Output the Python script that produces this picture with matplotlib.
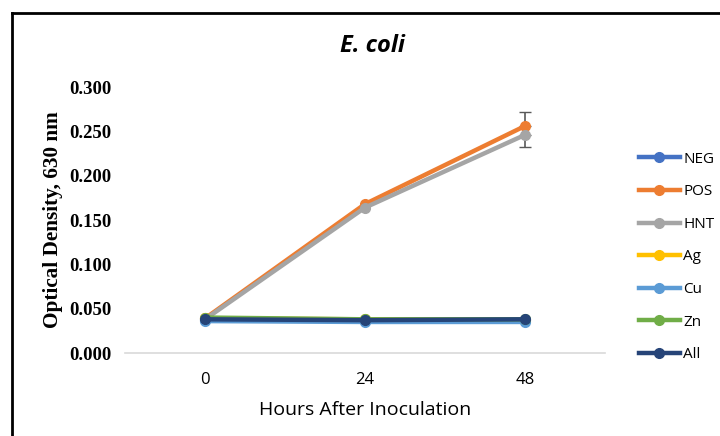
import matplotlib.pyplot as plt
from matplotlib.lines import Line2D

# Data
hours = ["0", "24", "48"]
series_names = ["NEG", "POS", "HNT", "Ag", "Cu", "Zn", "All"]
neg = [0.037, 0.036, 0.037]
pos = [0.039, 0.168, 0.256]
hnt = [0.038, 0.164, 0.246]
ag = [0.039, 0.038, 0.037]
cu = [0.036, 0.035, 0.035]
zn = [0.040, 0.038, 0.038]
all_ = [0.038, 0.037, 0.038]
pos_err = [0.0, 0.0, 0.016]
hnt_err = [0.0, 0.0, 0.014]

colors = ["#4472c4", "#ed7d31", "#a5a5a5", "#ffc000", "#5b9bd5", "#70ad47", "#264478"]
values = [neg, pos, hnt, ag, cu, zn, all_]

fig = plt.figure(figsize=(7.2, 4.36), dpi=100)
ax = fig.add_axes([125 / 720, 1 - 353 / 436, 480 / 720, 266 / 436])

x = list(range(len(hours)))
for name, vals, c in zip(series_names, values, colors):
    ax.plot(x, vals, color=c, lw=3.2, marker="o", ms=7, label=name, zorder=3)

# error bars (only the visible halves)
ax.errorbar([2], [pos[2]], yerr=[[0], [pos_err[2]]], fmt="none", ecolor="#595959",
            elinewidth=1.2, capsize=4, zorder=2)
ax.errorbar([2], [hnt[2]], yerr=[[hnt_err[2]], [0]], fmt="none", ecolor="#595959",
            elinewidth=1.2, capsize=4, zorder=2)

ax.set_xlim(-0.5, 2.5)
ax.set_ylim(0, 0.3)
ax.set_xticks(x)
ax.set_xticklabels(hours, fontsize=12, family="Open Sans")
ax.set_yticks([0, 0.05, 0.1, 0.15, 0.2, 0.25, 0.3])
ax.set_yticklabels([f"{v:.3f}" for v in ax.get_yticks()], fontsize=13.5,
                   family="Liberation Serif", fontweight="bold")
ax.tick_params(axis="y", length=0, pad=10)
ax.tick_params(axis="x", length=0, pad=14)
for s in ["top", "right", "left"]:
    ax.spines[s].set_visible(False)
ax.spines["bottom"].set_color("#d9d9d9")
ax.spines["bottom"].set_linewidth(1.2)

ax.set_ylabel("Optical Density, 630 nm", fontsize=15.3, family="Liberation Serif",
              fontweight="bold", labelpad=4)
ax.set_xlabel("Hours After Inoculation", fontsize=14, family="Open Sans", labelpad=9)
fig.text(372 / 720, 1 - 46 / 436, "E. coli", fontsize=17, family="Open Sans",
         fontweight="bold", style="italic", ha="center", va="center")

handles = [Line2D([], [], color=c, lw=3.2, marker="o", ms=7) for c in colors]
fig.legend(handles, series_names, loc="upper left", bbox_to_anchor=(625 / 720, 1 - 138 / 436),
           frameon=False, handlelength=2.7, labelspacing=1.15,
           handletextpad=0.2, prop={"family": "Open Sans", "size": 11})

# outer frame (top and left edges visible)
fig.add_artist(Line2D([12 / 720, 12 / 720], [0, 1 - 13 / 436], color="black", lw=2,
                      transform=fig.transFigure))
fig.add_artist(Line2D([12 / 720, 1], [1 - 13 / 436, 1 - 13 / 436], color="black", lw=2,
                      transform=fig.transFigure))

fig.savefig("out.png", dpi=100)
